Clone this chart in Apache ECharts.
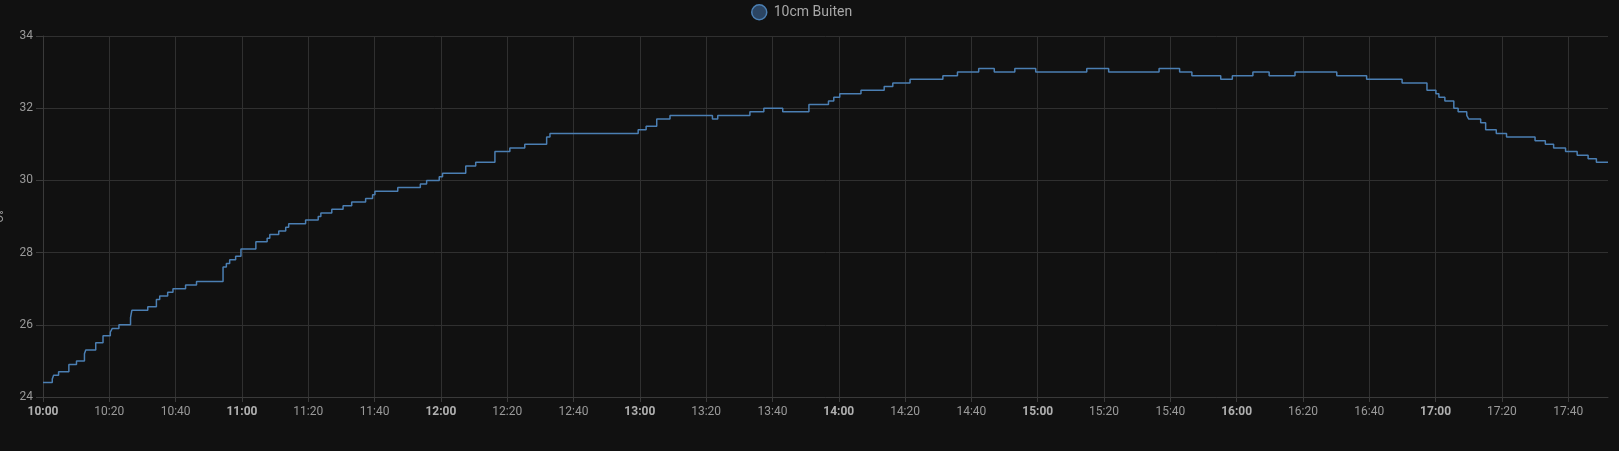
<!DOCTYPE html>
<html>
<head>
<meta charset="utf-8">
<script src="https://cdn.jsdelivr.net/npm/echarts@6/dist/echarts.min.js"></script>
<style>
html,body{margin:0;padding:0;background:#111111;}
#chart{width:1619px;height:451px;}
</style>
</head>
<body>
<div id="chart"></div>
<script>
// Series name and axis range
const seriesName = '10cm Buiten';
const startHour = 10;          // x axis starts at 10:00
const endMinute = 472;         // x axis ends ~17:52 (minutes after 10:00)
const yTicks = [24, 26, 28, 30, 32, 34];

// Step change points: minutes after 10:00 and temperature (°C)
const minutes = [
  0, 2.8, 3.2, 4.7, 7.8, 10.1, 12.5, 12.9, 15.9, 18.1,
  20.3, 20.9, 22.9, 26.4, 26.8, 31.6, 34.2, 35.2, 37.6, 39.2,
  43.0, 46.3, 54.3, 55.3, 56.3, 58.1, 59.7, 64.2, 67.6, 68.4,
  71.1, 73.2, 74.1, 79.2, 83.0, 83.8, 87.1, 90.5, 93.1, 97.3,
  99.4, 100.1, 107.0, 113.8, 115.7, 119.5, 120.5, 127.5, 130.5, 136.3,
  140.8, 145.3, 151.9, 152.9, 179.5, 181.9, 185.1, 189.1, 201.9, 203.5,
  213.2, 217.4, 223.1, 231.0, 236.9, 238.5, 240.3, 246.7, 253.7, 256.3,
  261.5, 271.4, 275.8, 282.2, 286.9, 293.1, 299.4, 314.8, 321.4, 336.6,
  342.8, 346.5, 355.2, 358.7, 364.9, 369.8, 377.6, 390.2, 399.2, 409.9,
  417.4, 420.1, 421.0, 422.8, 425.5, 426.8, 429.4, 430.0, 433.6, 435.1,
  438.3, 441.4, 450.0, 453.1, 455.6, 459.2, 462.7, 466.0, 468.5, 472.0
];
const temps = [
  24.4, 24.5, 24.6, 24.7, 24.9, 25.0, 25.2, 25.3, 25.5, 25.7,
  25.8, 25.9, 26.0, 26.2, 26.4, 26.5, 26.7, 26.8, 26.9, 27.0,
  27.1, 27.2, 27.6, 27.7, 27.8, 27.9, 28.1, 28.3, 28.4, 28.5,
  28.6, 28.7, 28.8, 28.9, 29.0, 29.1, 29.2, 29.3, 29.4, 29.5,
  29.6, 29.7, 29.8, 29.9, 30.0, 30.1, 30.2, 30.4, 30.5, 30.8,
  30.9, 31.0, 31.2, 31.3, 31.4, 31.5, 31.7, 31.8, 31.7, 31.8,
  31.9, 32.0, 31.9, 32.1, 32.2, 32.3, 32.4, 32.5, 32.6, 32.7,
  32.8, 32.9, 33.0, 33.1, 33.0, 33.1, 33.0, 33.1, 33.0, 33.1,
  33.0, 32.9, 32.8, 32.9, 33.0, 32.9, 33.0, 32.9, 32.8, 32.7,
  32.5, 32.4, 32.3, 32.2, 32.0, 31.9, 31.8, 31.7, 31.6, 31.4,
  31.3, 31.2, 31.1, 31.0, 30.9, 30.8, 30.7, 30.6, 30.5, 30.5
];

const data = minutes.map((m, i) => [m, temps[i]]);

function fmtTime(v) {
  const total = startHour * 60 + Math.round(v);
  const h = Math.floor(total / 60);
  const mm = total % 60;
  const s = h + ':' + (mm < 10 ? '0' : '') + mm;
  return mm === 0 ? '{b|' + s + '}' : s;
}

const chart = echarts.init(document.getElementById('chart'), null, {renderer: 'canvas'});
chart.setOption({
  backgroundColor: '#111111',
  animation: false,
  textStyle: {fontFamily: 'Roboto'},
  legend: {
    top: 4,
    left: 751,
    padding: 0,
    icon: 'circle',
    itemWidth: 15,
    itemHeight: 15,
    itemGap: 10,
    textStyle: {color: '#a8a8a8', fontSize: 14, fontFamily: 'Roboto', padding: [0, 0, 0, 2]},
    itemStyle: {color: '#2b4563', borderColor: '#4b7fb3', borderWidth: 1.5},
    data: [seriesName]
  },
  grid: {left: 43, right: 11, top: 36, bottom: 54, containLabel: false, outerBoundsMode: 'none'},
  xAxis: {
    type: 'value',
    min: 0,
    max: endMinute,
    interval: 20,
    axisLine: {show: true, lineStyle: {color: '#3a3a3a'}},
    axisTick: {show: true, length: 5, lineStyle: {color: '#3a3a3a'}},
    splitLine: {show: true, showMaxLine: false, lineStyle: {color: '#303030', width: 1}},
    axisLabel: {
      color: '#9a9a9a', fontSize: 12, margin: 9, showMaxLabel: false,
      fontFamily: 'Roboto',
      formatter: fmtTime,
      rich: {b: {fontWeight: 'bold', color: '#b0b0b0', fontSize: 12, fontFamily: 'Roboto'}}
    }
  },
  yAxis: {
    type: 'value',
    min: yTicks[0],
    max: yTicks[yTicks.length - 1],
    interval: yTicks[1] - yTicks[0],
    name: '°C',
    nameLocation: 'middle',
    nameRotate: -90,
    nameGap: 40,
    nameTextStyle: {color: '#9a9a9a', fontSize: 12, fontFamily: 'Roboto'},
    axisLine: {show: true, lineStyle: {color: '#3a3a3a'}},
    axisTick: {show: true, length: 7, lineStyle: {color: '#3a3a3a'}},
    splitLine: {show: true, lineStyle: {color: '#303030', width: 1}},
    axisLabel: {color: '#9a9a9a', fontSize: 12, margin: 10, fontFamily: 'Roboto'}
  },
  series: [{
    name: seriesName,
    type: 'line',
    step: 'end',
    data: data,
    showSymbol: false,
    color: '#4b7fb3',
    lineStyle: {color: '#4b7fb3', width: 1.5}
  }]
});
</script>
</body>
</html>
